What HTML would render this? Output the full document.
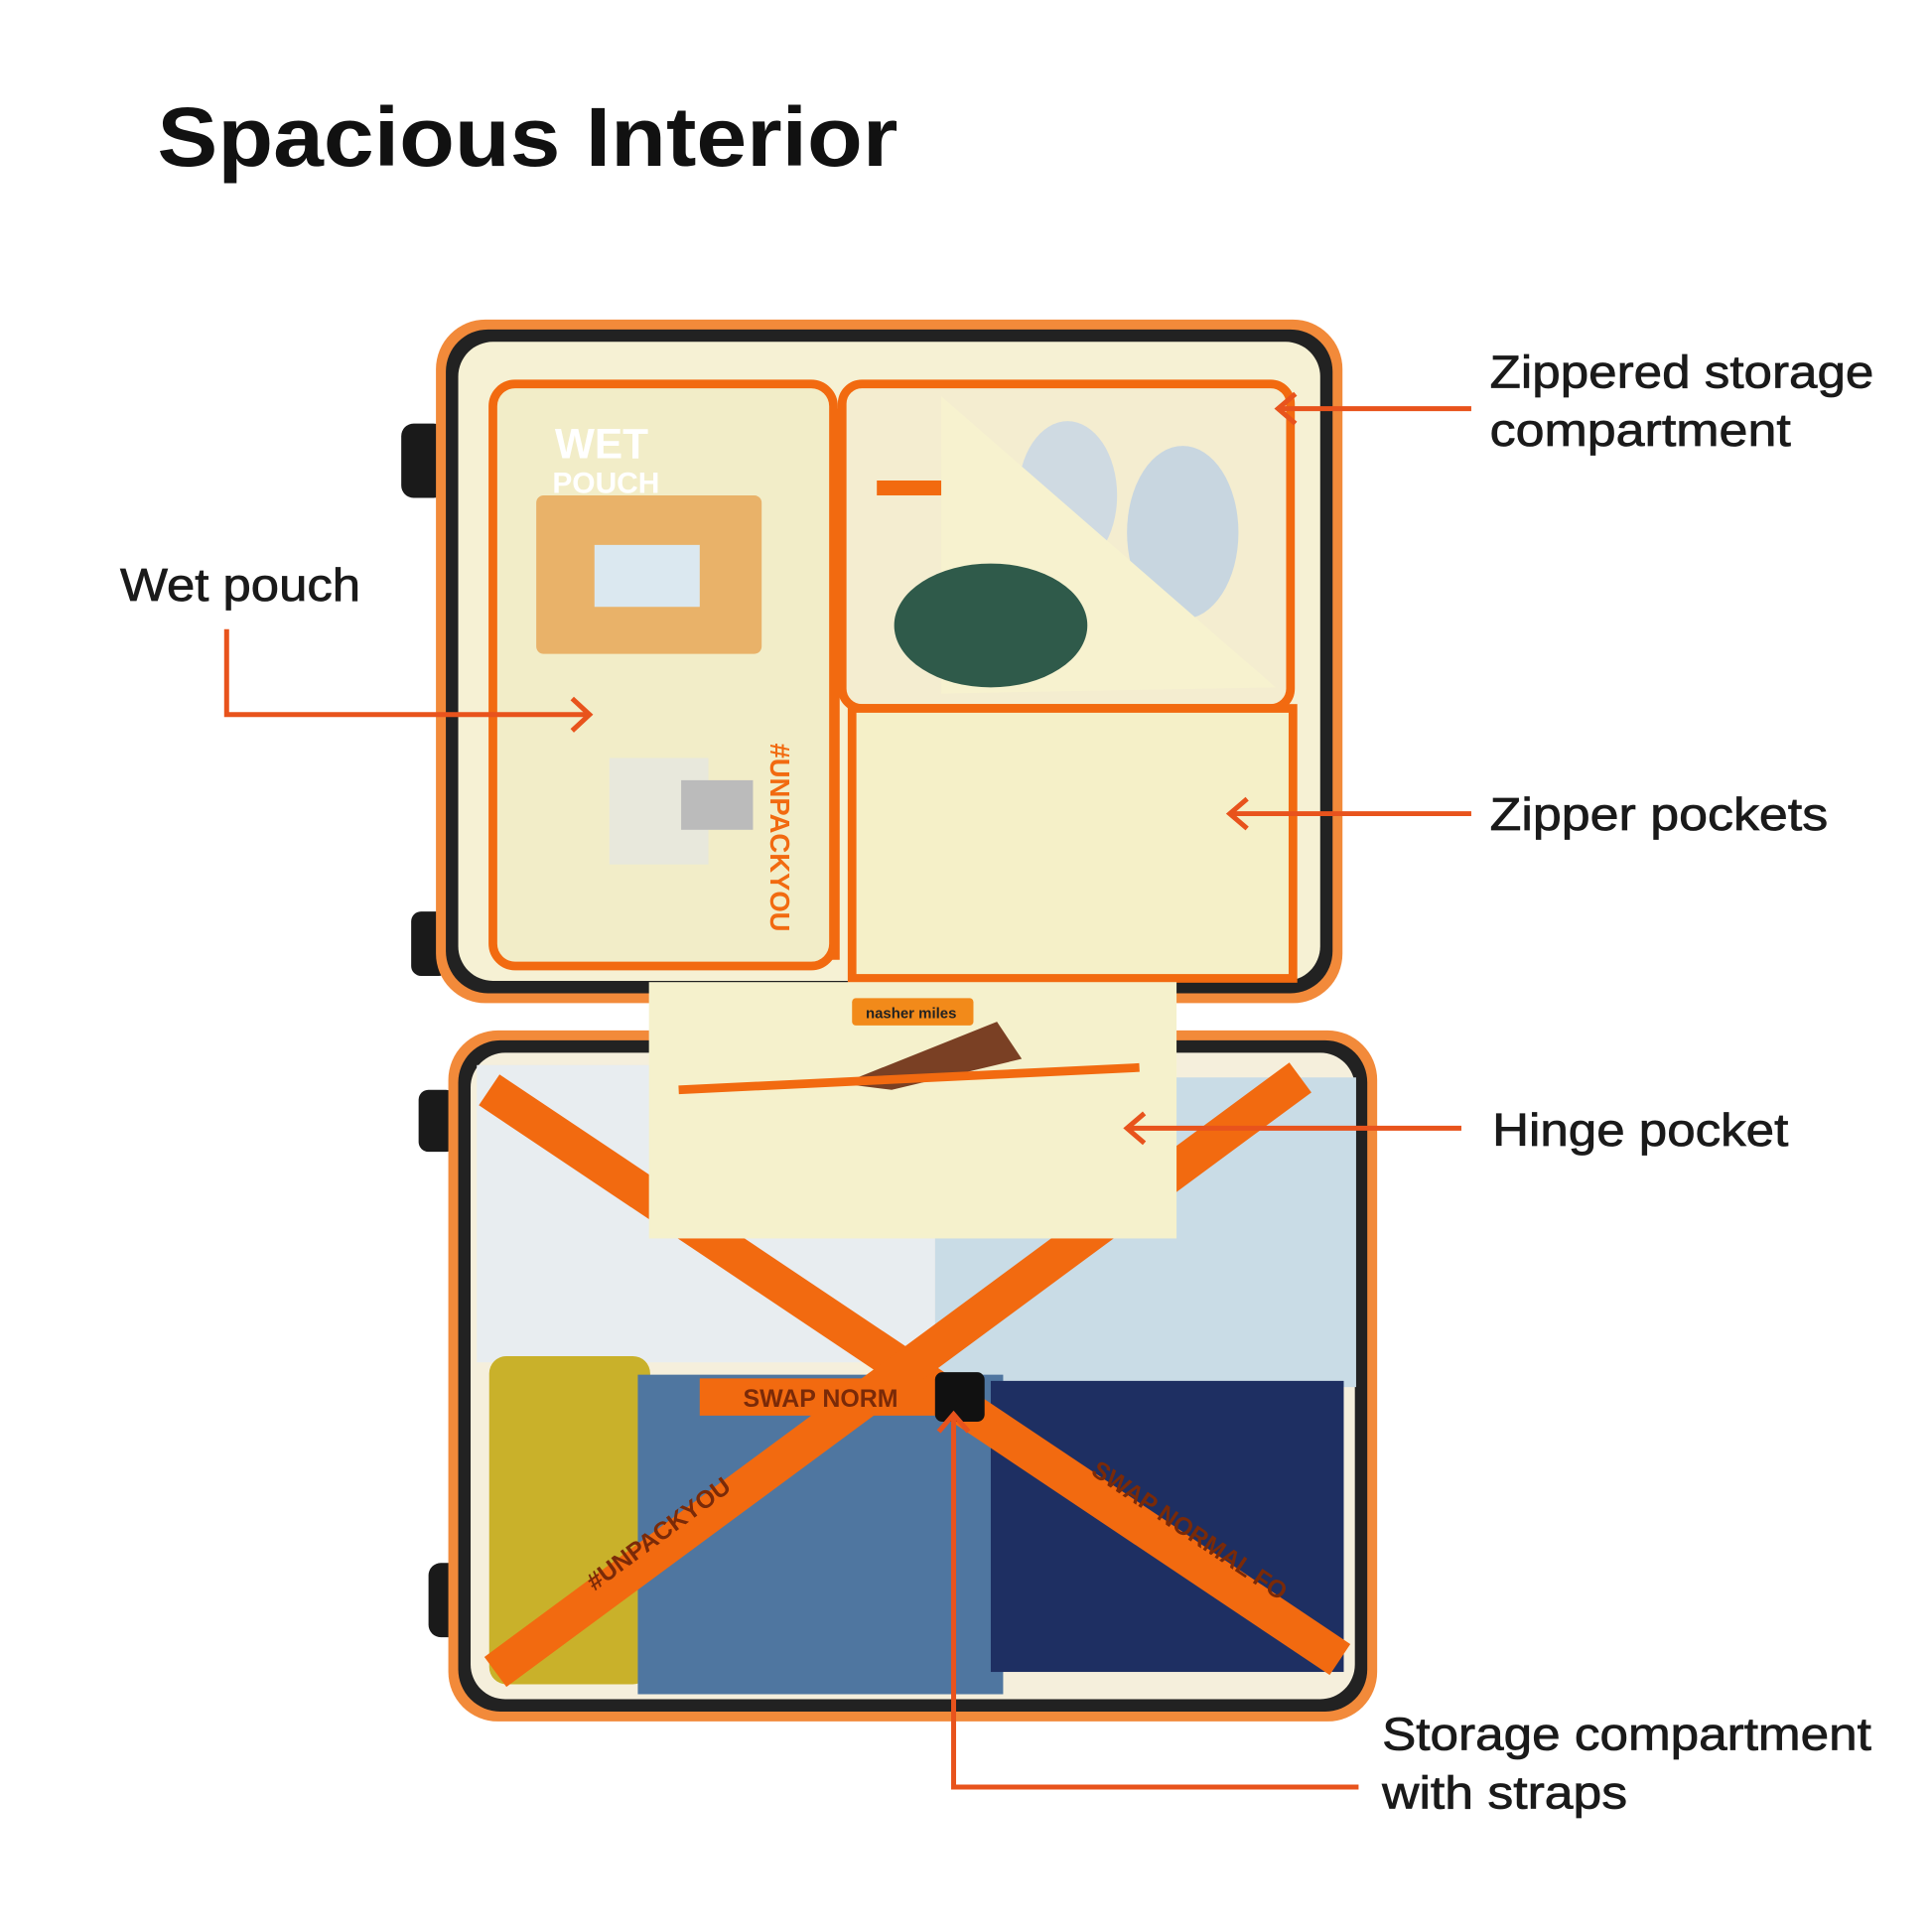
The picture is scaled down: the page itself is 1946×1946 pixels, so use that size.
<!DOCTYPE html>
<html><head><meta charset="utf-8"><style>
html,body{margin:0;padding:0;background:#fff}
svg{display:block}
text{font-family:"Liberation Sans",sans-serif}
</style></head><body>
<svg width="1946" height="1946" viewBox="0 0 1560 1560" xmlns="http://www.w3.org/2000/svg">
<rect width="1560" height="1560" fill="#fff"/>
<text x="127" y="134" font-size="68" font-weight="bold" fill="#111" textLength="598" lengthAdjust="spacingAndGlyphs">Spacious Interior</text>

<g fill="#1a1a1a">
<rect x="324" y="342" width="36" height="60" rx="10"/>
<rect x="332" y="736" width="30" height="52" rx="8"/>
<rect x="338" y="880" width="30" height="50" rx="8"/>
<rect x="346" y="1262" width="30" height="60" rx="10"/>
</g>

<rect x="352" y="258" width="732" height="552" rx="40" fill="#f28a3a"/>
<rect x="360" y="266" width="716" height="536" rx="34" fill="#222"/>
<rect x="370" y="276" width="696" height="516" rx="28" fill="#f6f1d4"/>
<rect x="398" y="310" width="275" height="470" rx="18" fill="#f2edc8" stroke="#f26a10" stroke-width="7"/>
<text x="448" y="370" font-size="34" font-weight="bold" fill="#fff">WET</text>
<text x="446" y="398" font-size="24" font-weight="bold" fill="#fff">POUCH</text>
<rect x="433" y="400" width="182" height="128" rx="6" fill="#e9b269"/>
<rect x="480" y="440" width="85" height="50" fill="#dbe8f0"/>
<rect x="492" y="612" width="80" height="86" fill="#e8e8dc"/>
<rect x="550" y="630" width="58" height="40" fill="#bbb"/>
<text x="622" y="600" font-size="22" font-weight="bold" fill="#f26a10" transform="rotate(90 622 600)">#UNPACKYOU</text>
<rect x="680" y="310" width="362" height="262" rx="16" fill="#f4edd0" stroke="#f26a10" stroke-width="7"/>
<rect x="708" y="388" width="70" height="12" fill="#f26a10"/>
<ellipse cx="862" cy="400" rx="40" ry="60" fill="#cfdae2"/>
<ellipse cx="955" cy="430" rx="45" ry="70" fill="#c8d6e0"/>
<path d="M760 320 L1030 555 L760 560 Z" fill="#f7f2cf"/>
<ellipse cx="800" cy="505" rx="78" ry="50" fill="#2f5a4a"/>
<rect x="688" y="572" width="356" height="218" fill="#f5f0c8" stroke="#f26a10" stroke-width="7"/>
<line x1="675" y1="330" x2="675" y2="775" stroke="#f26a10" stroke-width="6"/>

<rect x="362" y="832" width="750" height="558" rx="40" fill="#f28a3a"/>
<rect x="370" y="840" width="734" height="542" rx="34" fill="#222"/>
<rect x="380" y="850" width="714" height="522" rx="28" fill="#f5efdc"/>
<rect x="385" y="860" width="370" height="240" fill="#e8edf0"/>
<rect x="755" y="870" width="340" height="250" fill="#c9dce6"/>
<rect x="395" y="1095" width="130" height="265" rx="14" fill="#c9b12a"/>
<rect x="515" y="1110" width="295" height="258" fill="#4f76a0"/>
<rect x="800" y="1115" width="285" height="235" fill="#1e2f62"/>
<g stroke="#f26a10" stroke-width="30" stroke-linecap="butt">
<line x1="395" y1="880" x2="1082" y2="1340"/>
<line x1="1050" y1="870" x2="400" y2="1350"/>
<line x1="565" y1="1128" x2="770" y2="1128"/>
</g>
<g font-size="20" font-weight="bold" fill="#7a2a08">
<text x="600" y="1136">SWAP NORM</text>
<text x="880" y="1190" transform="rotate(33.8 880 1190)">SWAP NORMAL FO</text>
<text x="480" y="1285" transform="rotate(-36.4 480 1285)">#UNPACKYOU</text>
</g>
<rect x="755" y="1108" width="40" height="40" rx="6" fill="#111"/>
<rect x="524" y="793" width="426" height="207" fill="#f5f1cc"/>
<rect x="688" y="806" width="98" height="22" rx="3" fill="#f28a1a"/>
<text x="699" y="822" font-size="12" font-weight="bold" fill="#222">nasher miles</text>
<path d="M680 875 L805 825 L825 855 L720 880 Z" fill="#7a4024"/>
<line x1="548" y1="880" x2="920" y2="862" stroke="#f26a10" stroke-width="7"/>

<g stroke="#e8531c" stroke-width="4" fill="none">
<polyline points="1188,330 1032,330"/><polyline points="1046,318 1032,330 1046,342"/>
<polyline points="183,508 183,577 474,577"/><polyline points="462,564 476,577 462,590"/>
<polyline points="1188,657 993,657"/><polyline points="1007,645 993,657 1007,669"/>
<polyline points="1180,911 910,911"/><polyline points="924,899 910,911 924,923"/>
<polyline points="1097,1443 770,1443 770,1142"/><polyline points="758,1156 770,1142 782,1156"/>
</g>
<g font-size="37" fill="#1a1a1a" stroke="#1a1a1a" stroke-width="0.6">
<text x="1203" y="313" textLength="310" lengthAdjust="spacingAndGlyphs">Zippered storage</text>
<text x="1203" y="360" textLength="243" lengthAdjust="spacingAndGlyphs">compartment</text>
<text x="97" y="485" textLength="194" lengthAdjust="spacingAndGlyphs">Wet pouch</text>
<text x="1203" y="670" textLength="273" lengthAdjust="spacingAndGlyphs">Zipper pockets</text>
<text x="1205" y="925" textLength="239" lengthAdjust="spacingAndGlyphs">Hinge pocket</text>
<text x="1116" y="1413" textLength="395" lengthAdjust="spacingAndGlyphs">Storage compartment</text>
<text x="1116" y="1460" textLength="198" lengthAdjust="spacingAndGlyphs">with straps</text>
</g>
</svg>
</body></html>
